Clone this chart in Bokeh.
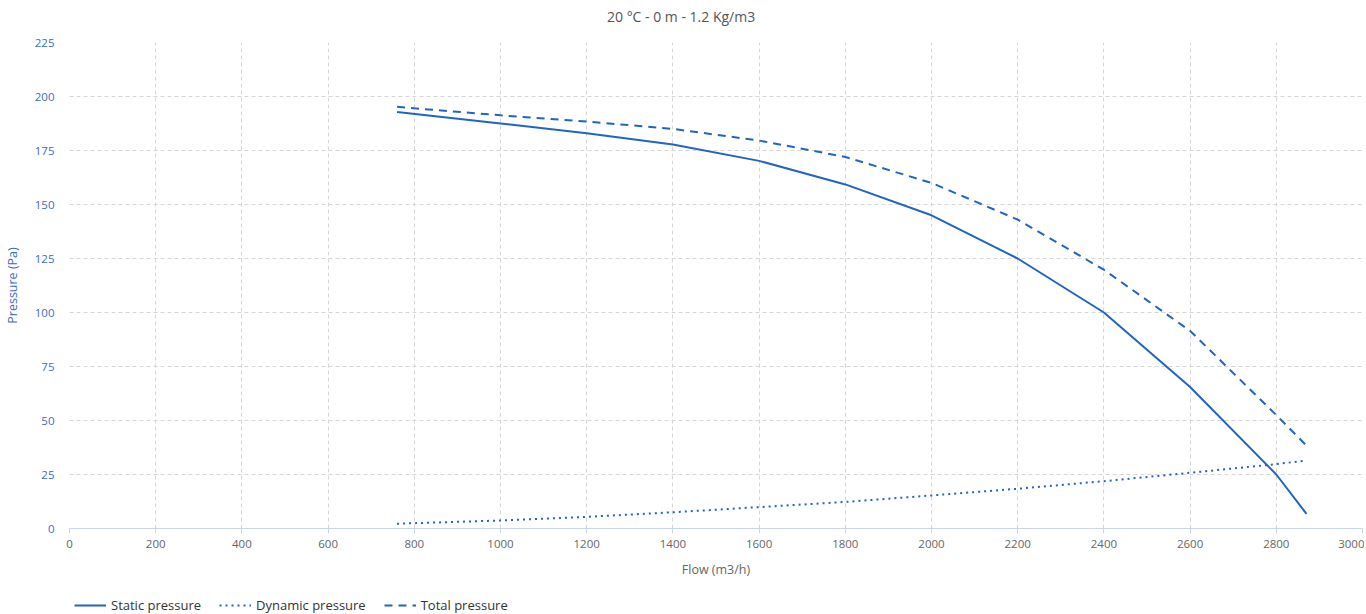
from bokeh.plotting import figure
from bokeh.layouts import column
from bokeh.models import Range1d, FixedTicker, Legend, LegendItem, Label
from bokeh.embed import file_html
from bokeh.resources import INLINE

flow = [760, 1000, 1200, 1400, 1600, 1800, 2000, 2200, 2400, 2600, 2800, 2870]
static_p = [192.8, 187.5, 183.0, 177.8, 170.2, 159.3, 145.0, 125.0, 100.0, 65.5, 25.0, 6.8]
dynamic_p = [2.2, 3.7, 5.4, 7.5, 9.9, 12.3, 15.3, 18.4, 21.9, 25.8, 29.8, 31.5]
total_p = [195.2, 191.3, 188.4, 185.0, 179.6, 172.0, 160.0, 143.0, 119.8, 91.5, 52.5, 38.4]

x_ticks = list(range(0, 3001, 200))
y_ticks = list(range(0, 226, 25))

title_text = "20 °C - 0 m - 1.2 Kg/m3"
x_title = "Flow (m3/h)"
y_title = "Pressure (Pa)"
names = ["Static pressure", "Dynamic pressure", "Total pressure"]
dashes = ["solid", "2 4", "8 6"]

FONT = "Open Sans"
BLUE = "#2164c4"
W = 1364


def strip(height):
    f = figure(width=W, height=height, output_backend="svg", toolbar_location=None,
               x_range=Range1d(0, 1), y_range=Range1d(0, 1),
               min_border_left=0, min_border_right=0, min_border_top=0, min_border_bottom=0)
    f.axis.visible = False
    f.grid.visible = False
    f.outline_line_color = None
    return f


# title strip above the chart
top = strip(30)
top.add_layout(Label(x=0.473, y=0.47, text=title_text, text_align="center",
                     text_baseline="middle", text_font=FONT, text_font_size="14px",
                     text_color="#555555"))

p = figure(width=W, height=552, output_backend="svg", toolbar_location=None,
           x_range=Range1d(0, 3000), y_range=Range1d(0, 225),
           min_border_left=67, min_border_right=2, min_border_top=12, min_border_bottom=54)
p.outline_line_color = None

for g in (p.xgrid[0], p.ygrid[0]):
    g.grid_line_color = "#d6d6d6"
    g.grid_line_dash = "4 3"
    g.grid_line_width = 1

xa = p.xaxis[0]
xa.ticker = FixedTicker(ticks=x_ticks)
xa.axis_line_color = "#ccd6eb"
xa.major_tick_line_color = "#ccd6eb"
xa.major_tick_out = 5
xa.major_tick_in = 0
xa.minor_tick_line_color = None
xa.minor_tick_out = 0
xa.major_label_standoff = 6
xa.major_label_text_font = FONT
xa.major_label_text_font_size = "11.5px"
xa.major_label_text_color = "#666666"
xa.axis_label = x_title
xa.axis_label_text_font = FONT
xa.axis_label_text_font_size = "12.5px"
xa.axis_label_text_font_style = "normal"
xa.axis_label_text_color = "#666666"
xa.axis_label_standoff = 10

ya = p.yaxis[0]
ya.ticker = FixedTicker(ticks=y_ticks)
ya.axis_line_color = None
ya.major_tick_line_color = None
ya.minor_tick_line_color = None
ya.major_tick_out = 0
ya.major_tick_in = 0
ya.minor_tick_out = 0
ya.major_label_standoff = 15
ya.major_label_text_font = FONT
ya.major_label_text_font_size = "11.5px"
ya.major_label_text_color = "#3b6cc4"
ya.axis_label = y_title
ya.axis_label_text_font = FONT
ya.axis_label_text_font_size = "12.5px"
ya.axis_label_text_font_style = "normal"
ya.axis_label_text_color = "#3b6cc4"
ya.axis_label_standoff = 11

series = [static_p, dynamic_p, total_p]
for vals, d in zip(series, dashes):
    p.line(flow, vals, line_color=BLUE, line_width=2, line_dash=d)

# legend strip below the chart (its series lie outside this strip's ranges)
leg = strip(32)
items = []
for name, vals, d in zip(names, series, dashes):
    r = leg.line(flow, vals, line_color=BLUE, line_width=2, line_dash=d)
    items.append(LegendItem(label=name, renderers=[r]))
legend = Legend(items=items, orientation="horizontal", location=(5, 0),
                glyph_width=32, glyph_height=12, label_height=16, label_standoff=5, spacing=18,
                padding=0, margin=0, border_line_color=None,
                label_text_font=FONT, label_text_font_size="13px",
                label_text_color="#333333", background_fill_alpha=0)
leg.add_layout(legend)

layout = column(top, p, leg, spacing=0)
open("out.html", "w").write(file_html(layout, INLINE))
